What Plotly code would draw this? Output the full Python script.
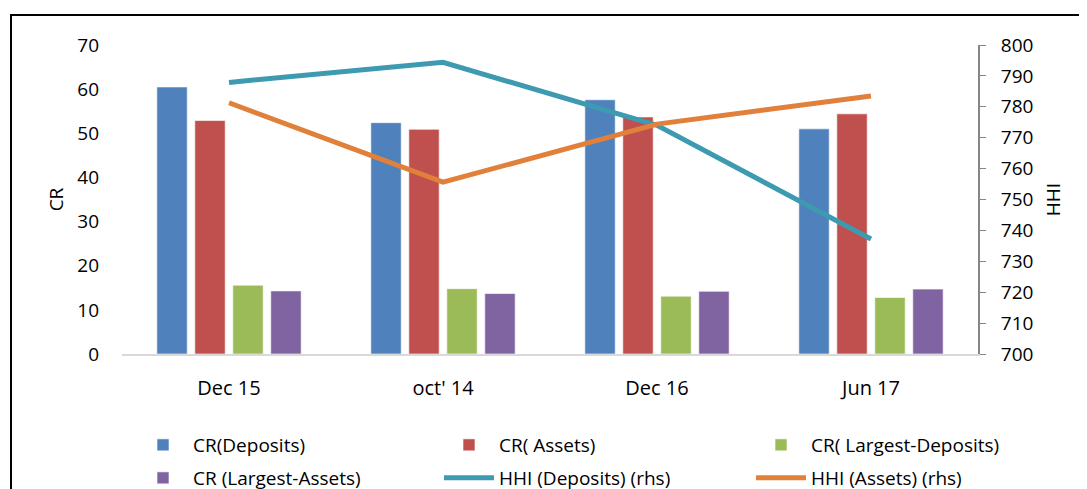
import plotly.graph_objects as go

categories = ["Dec 15", "oct' 14", "Dec 16", "Jun 17"]
cr_deposits = [60.5, 52.4, 57.6, 51.0]
cr_assets = [52.9, 50.9, 53.7, 54.4]
cr_largest_deposits = [15.6, 14.8, 13.1, 12.8]
cr_largest_assets = [14.3, 13.7, 14.2, 14.7]
hhi_deposits = [787.9, 794.4, 774.0, 737.2]
hhi_assets = [781.3, 755.6, 774.4, 783.5]

FONT = "Open Sans"
tfs = 19
xfs = 20
lfs = 19

# page body margin offsets the figure by 8px; work in screen pixels
OFF = 8
PL, PR, PT, PB = 122 - OFF, 978 - OFF, 45 - OFF, 354 - OFF
PW, PH = PR - PL, PB - PT


def px_x(p):
    return (p - OFF - PL) / PW


def px_y(p):
    return (PB - (p - OFF)) / PH


fig = go.Figure()
bar_specs = [
    ("CR(Deposits)", cr_deposits, "#4F81BD", "legend"),
    ("CR( Assets)", cr_assets, "#C0504D", "legend2"),
    ("CR( Largest-Deposits)", cr_largest_deposits, "#9BBB59", "legend3"),
    ("CR (Largest-Assets)", cr_largest_assets, "#8064A2", "legend4"),
]
for name, vals, col, lg in bar_specs:
    fig.add_trace(go.Bar(x=categories, y=vals, name=name, legend=lg, showlegend=True,
                         marker=dict(color=col, line=dict(color="rgba(255,255,255,0.6)", width=1))))

line_specs = [
    ("HHI (Deposits) (rhs)", hhi_deposits, "#3E9AB1", "legend5"),
    ("HHI (Assets) (rhs)", hhi_assets, "#E0803A", "legend6"),
]
for name, vals, col, lg in line_specs:
    fig.add_trace(go.Scatter(x=categories, y=vals, name=name, yaxis="y2", legend=lg,
                             showlegend=True, mode="lines", line=dict(color=col, width=5)))

text_off = 68
col_text = [201, 507, 819]
row_y = [445, 478]
legends = {}
names = ["legend", "legend2", "legend3", "legend4", "legend5", "legend6"]
for i, nm in enumerate(names):
    r, c = divmod(i, 3)
    legends[nm] = dict(orientation="h", x=px_x(col_text[c] - text_off), xanchor="left",
                       y=px_y(row_y[r]), yanchor="middle", itemwidth=50,
                       font=dict(size=lfs), bgcolor="rgba(0,0,0,0)")

fig.update_layout(
    width=1087, height=489,
    margin=dict(l=PL, r=1087 - PR, t=PT, b=489 - PB, autoexpand=False),
    showlegend=True,
    paper_bgcolor="white", plot_bgcolor="white",
    font=dict(family=FONT, size=tfs, color="#000000"),
    barmode="group", bargap=0.29, bargroupgap=0.2,
    xaxis=dict(type="category", range=[-0.5, 3.5], showgrid=False, showline=True,
               linecolor="#D9D9D9", linewidth=2, ticks="", ticklabelstandoff=15,
               tickfont=dict(size=xfs)),
    yaxis=dict(range=[0, 70], dtick=10, showgrid=False, zeroline=False, showline=False,
               ticks="", ticklabelstandoff=22, tickfont=dict(size=tfs),
               title=dict(text="CR", standoff=8, font=dict(size=tfs))),
    yaxis2=dict(range=[700, 800], dtick=10, overlaying="y", side="right", showgrid=False,
                zeroline=False, showline=True, linecolor="#868686", linewidth=2,
                ticks="outside", ticklen=6, tickcolor="#868686", ticklabelstandoff=11,
                tickfont=dict(size=tfs),
                title=dict(text="HHI", standoff=14, font=dict(size=tfs))),
    shapes=[dict(type="rect", xref="paper", yref="paper",
                 x0=px_x(11), x1=px_x(1120), y0=px_y(15), y1=px_y(520),
                 line=dict(color="black", width=2), fillcolor="rgba(0,0,0,0)", layer="below")],
    **legends,
)

fig.write_html("out.html")
